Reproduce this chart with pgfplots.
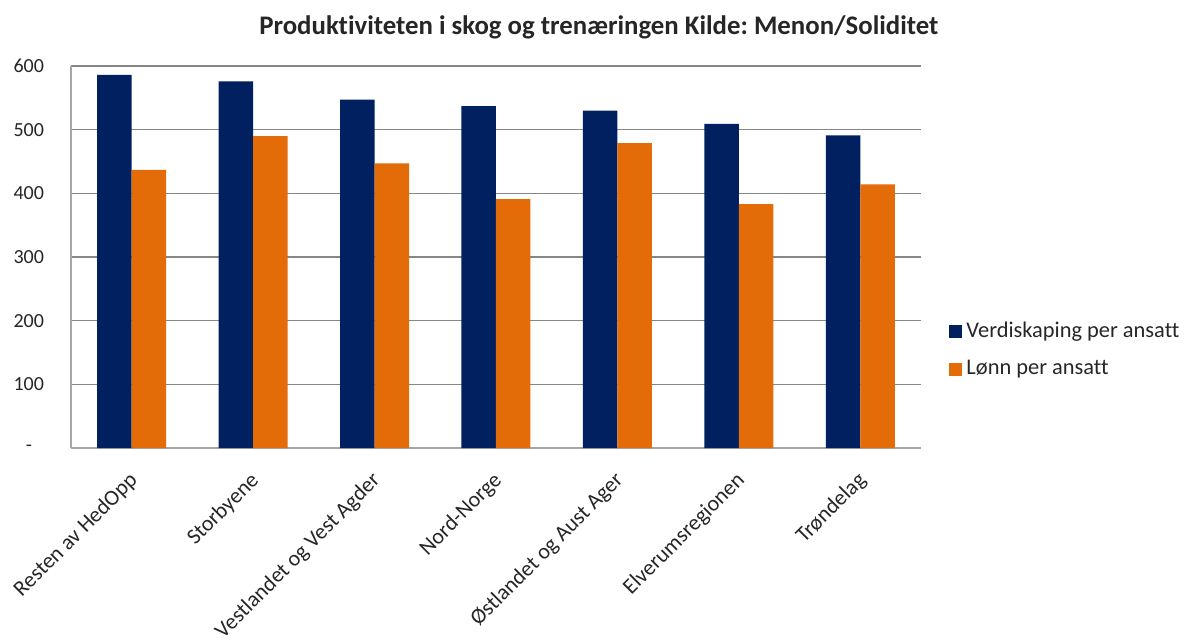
\documentclass[border=0pt]{standalone}
\usepackage{pgfplots}
\pgfplotsset{compat=1.18}
\usepackage{fontspec}
\setmainfont{Carlito}[Ligatures={NoCommon}]
\frenchspacing
\definecolor{navybar}{HTML}{002060}
\definecolor{orangebar}{HTML}{E36C09}
\definecolor{gridgray}{HTML}{868686}
\definecolor{axisgray}{HTML}{A6A6A6}
\definecolor{inktext}{HTML}{262626}
\begin{document}
\begin{tikzpicture}
\path[use as bounding box] (-35.5pt,-94.5pt) rectangle (558pt,224pt);
\begin{axis}[
scale only axis,width=425pt,height=191pt,
font=\fontsize{10}{12}\selectfont,
ybar=0pt,bar width=17.25pt,
xmin=-0.5,xmax=6.5,ymin=0,ymax=600,
xtick=data,
xticklabels={Resten av HedOpp,Storbyene,Vestlandet og Vest Agder,Nord-Norge,Østlandet og Aust Ager,Elverumsregionen,Trøndelag},
xticklabel style={rotate=45,anchor=north east,text=inktext,xshift=-6pt,yshift=-3pt,font=\fontsize{11}{13}\selectfont},
ytick={0,100,200,300,400,500,600},
yticklabels={{-\hspace*{6pt}},100,200,300,400,500,600},
yticklabel style={text=inktext,xshift=-10pt},
major tick length=0pt,
axis x line*=bottom,axis y line*=left,
axis line style={axisgray,line width=1.2pt},
ymajorgrids,grid style={gridgray,line width=0.8pt},
title={\bfseries Produktiviteten i skog og trenæringen Kilde: Menon/Soliditet},
every axis title shift=0pt,
title style={at={(0.621,1.102)},anchor=center,font=\fontsize{13.4}{15}\selectfont,text=inktext},
legend style={draw=none,fill=none,at={(1.026,0.257)},anchor=west,
  legend cell align=left,row sep=6pt,font=\fontsize{11.2}{13}\selectfont,text=inktext},
legend image code/.code={\fill[#1] (0pt,-3.2pt) rectangle (6.5pt,3.3pt);},
]
\addplot[fill=navybar,draw=none] coordinates {(0,586) (1,576) (2,547) (3,537) (4,530) (5,509) (6,491)};
\addlegendentry{Verdiskaping per ansatt}
\addplot[fill=orangebar,draw=none] coordinates {(0,437) (1,490) (2,447) (3,391) (4,479) (5,383) (6,414)};
\addlegendentry{Lønn per ansatt}
\end{axis}
\end{tikzpicture}
\end{document}
